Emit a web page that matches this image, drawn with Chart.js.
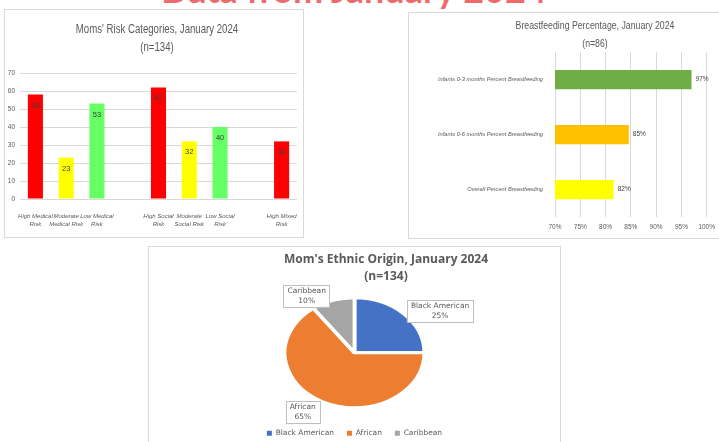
<!DOCTYPE html>
<html>
<head>
<meta charset="utf-8">
<script src="https://cdn.jsdelivr.net/npm/chart.js@4.4.1/dist/chart.umd.min.js"></script>
<style>
  html, body { margin: 0; padding: 0; background: #fff; width: 719px; height: 442px; overflow: hidden; position: relative; }
  .headline { position: absolute; left: 0; width: 708px; top: -29px; text-align: center; font: 700 36px Lato, sans-serif; color: #ef6b6b; line-height: 36px; white-space: nowrap; }
  .panel { position: absolute; border: 1px solid #d9d9d9; background: #fff; }
  .panel canvas { display: block; }
</style>
</head>
<body>
<div class="headline">Data from January 2024</div>
<div class="panel" style="left:4px;top:9px;width:298px;height:227px;"><canvas id="riskChart" width="298" height="227"></canvas></div>
<div class="panel" style="left:408px;top:12px;width:312px;height:225px;"><canvas id="feedChart" width="312" height="225"></canvas></div>
<div class="panel" style="left:148px;top:246px;width:411px;height:200px;"><canvas id="originChart" width="411" height="200"></canvas></div>
<script>
// Moms' risk categories (blank slots are the gaps between groups)
const riskLabels = [['High Medical', 'Risk'], ['Moderate', 'Medical Risk'], ['Low Medical', 'Risk'], '',
    ['High Social', 'Risk'], ['Moderate', 'Social Risk'], ['Low Social', 'Risk'], '', ['High Mixed', 'Risk']];
const riskCounts = [58, 23, 53, null, 62, 32, 40, null, 32];
const riskColors = ['#ff0000', '#ffff00', '#66ff66', null, '#ff0000', '#ffff00', '#66ff66', null, '#ff0000'];
const riskTicks = [0, 10, 20, 30, 40, 50, 60, 70];

// Breastfeeding percentage
const feedLabels = ['Infants 0-3 months Percent Breastfeeding', 'Infants 0-6 months Percent Breastfeeding', 'Overall Percent Breastfeeding'];
const feedPercent = [97, 84.6, 81.6];
const feedColors = ['#70ad47', '#ffc000', '#ffff00'];
const feedTicks = [70, 75, 80, 85, 90, 95, 100];

// Ethnic origin
const originLabels = ['Black American', 'African', 'Caribbean'];
const originPercent = [25, 65, 10];
const originColors = ['#4472c4', '#ed7d31', '#a5a5a5'];

const NARROW = "'Liberation Sans Narrow', 'Liberation Sans', sans-serif";
const GREY = '#595959';

// draws a centred multi-line title at a fixed spot of the panel (squeezed like the original)
function panelTitle(lines, x, y, lineHeight, font, squeeze) {
    return {
        id: 'panelTitle',
        afterDraw(chart) {
            const ctx = chart.ctx;
            ctx.save();
            ctx.font = font;
            ctx.fillStyle = GREY;
            ctx.textAlign = 'center';
            ctx.textBaseline = 'middle';
            ctx.translate(x, y);
            ctx.scale(squeeze, 1);
            lines.forEach((line, i) => ctx.fillText(line, 0, i * lineHeight));
            ctx.restore();
        }
    };
}

// value labels for bars
function barValues(format, horizontal) {
    return {
        id: 'barValues',
        afterDatasetsDraw(chart) {
            const ctx = chart.ctx;
            const values = chart.data.datasets[0].data;
            ctx.save();
            ctx.fillStyle = '#404040';
            ctx.textBaseline = 'middle';
            chart.getDatasetMeta(0).data.forEach((bar, i) => {
                if (values[i] == null) return;
                if (horizontal) {
                    ctx.font = `6.5px ${NARROW}`;
                    ctx.textAlign = 'left';
                    ctx.fillText(format(values[i]), bar.x + 4, bar.y);
                } else {
                    ctx.font = `7.5px ${NARROW}`;
                    ctx.textAlign = 'center';
                    ctx.fillText(format(values[i]), bar.x, bar.y + 11);
                }
            });
            ctx.restore();
        }
    };
}

new Chart(document.getElementById('riskChart'), {
    type: 'bar',
    data: {
        labels: riskLabels,
        datasets: [{ data: riskCounts, backgroundColor: riskColors, barPercentage: 0.49, categoryPercentage: 1 }]
    },
    options: {
        responsive: false,
        animation: false,
        layout: { padding: { top: 63, right: 6 } },
        plugins: { legend: { display: false }, tooltip: { enabled: false } },
        scales: {
            x: {
                grid: { display: false },
                border: { display: false },
                ticks: { autoSkip: false, maxRotation: 0, color: GREY, padding: 5, font: { family: NARROW, size: 6, style: 'italic', lineHeight: 1.4 } },
                afterFit: s => { s.height = 38; }
            },
            y: {
                min: 0, max: 70,
                afterBuildTicks: s => { s.ticks = riskTicks.map(v => ({ value: v })); },
                grid: { color: '#d9d9d9', drawTicks: false },
                border: { display: false },
                ticks: { color: GREY, padding: 5, font: { family: NARROW, size: 6.5 } },
                afterFit: s => { s.width = 15; }
            }
        }
    },
    plugins: [panelTitle(["Moms' Risk Categories, January 2024", '(n=134)'], 152, 20, 18, `12.5px ${NARROW}`, 0.77), barValues(v => v, false)]
});

new Chart(document.getElementById('feedChart'), {
    type: 'bar',
    data: {
        labels: feedLabels,
        datasets: [{ data: feedPercent, backgroundColor: feedColors, barPercentage: 0.35, categoryPercentage: 1 }]
    },
    options: {
        responsive: false,
        animation: false,
        indexAxis: 'y',
        layout: { padding: { top: 39, right: 14 } },
        plugins: { legend: { display: false }, tooltip: { enabled: false } },
        scales: {
            x: {
                min: 70, max: 100,
                afterBuildTicks: s => { s.ticks = feedTicks.map(v => ({ value: v })); },
                grid: { color: '#d9d9d9', drawTicks: false },
                border: { display: false },
                ticks: { color: GREY, padding: 6, callback: v => v + '%', font: { family: NARROW, size: 6.5 } },
                afterFit: s => { s.height = 21; }
            },
            y: {
                grid: { display: false },
                border: { display: false },
                ticks: { color: GREY, padding: 4, font: { family: NARROW, size: 5.7, style: 'italic' } },
                afterFit: s => { s.width = 146; }
            }
        }
    },
    plugins: [panelTitle(['Breastfeeding Percentage, January 2024', '(n=86)'], 186, 13, 18, `11.5px ${NARROW}`, 0.76), barValues(v => Math.round(v) + '%', true)]
});

// pie is drawn a bit wider than tall, as in the original
const widenPie = {
    id: 'widenPie',
    beforeDatasetsDraw(chart) {
        const arc = chart.getDatasetMeta(0).data[0];
        const ctx = chart.ctx;
        ctx.save();
        ctx.translate(arc.x, arc.y);
        ctx.scale(1.27, 1);
        ctx.translate(-arc.x, -arc.y);
    },
    afterDatasetsDraw(chart) {
        chart.ctx.restore();
    }
};

// boxed "name / percent" labels just outside each slice
const sliceLabels = {
    id: 'sliceLabels',
    afterDraw(chart) {
        const ctx = chart.ctx;
        const meta = chart.getDatasetMeta(0);
        ctx.save();
        ctx.font = "7.5px 'DejaVu Sans', sans-serif";
        ctx.textAlign = 'center';
        ctx.textBaseline = 'middle';
        meta.data.forEach((arc, i) => {
            const mid = (arc.startAngle + arc.endAngle) / 2;
            const dx = Math.cos(mid), dy = Math.sin(mid);
            const ex = arc.x + dx * arc.outerRadius * 1.27;
            const ey = arc.y + dy * arc.outerRadius;
            const lines = [originLabels[i], originPercent[i] + '%'];
            const w = Math.max(...lines.map(t => ctx.measureText(t).width)) + 8;
            const h = 22;
            const cx = dx > 0 ? ex + 3 + w / 2 : ex - 3 - w / 2;
            const cy = ey + dy * 8 + 3;
            ctx.fillStyle = '#fff';
            ctx.strokeStyle = '#bfbfbf';
            ctx.lineWidth = 1;
            ctx.fillRect(cx - w / 2, cy - h / 2, w, h);
            ctx.strokeRect(Math.round(cx - w / 2) + 0.5, Math.round(cy - h / 2) + 0.5, Math.round(w), h);
            ctx.fillStyle = GREY;
            ctx.fillText(lines[0], cx, cy - 5);
            ctx.fillText(lines[1], cx, cy + 5);
        });
        ctx.restore();
    }
};

new Chart(document.getElementById('originChart'), {
    type: 'pie',
    data: {
        labels: originLabels,
        datasets: [{ data: originPercent, backgroundColor: originColors, borderColor: '#fff', borderWidth: 3, radius: 55 }]
    },
    options: {
        responsive: false,
        animation: false,
        layout: { padding: { top: 42, bottom: 0 } },
        plugins: {
            tooltip: { enabled: false },
            legend: {
                position: 'bottom',
                labels: {
                    boxWidth: 5, boxHeight: 5, padding: 13, color: GREY,
                    font: { family: "'DejaVu Sans', sans-serif", size: 7.5 },
                    generateLabels: chart => Chart.overrides.pie.plugins.legend.labels.generateLabels(chart).map(l => ({ ...l, lineWidth: 0 }))
                }
            }
        }
    },
    plugins: [widenPie, sliceLabels, panelTitle(["Mom's Ethnic Origin, January 2024", '(n=134)'], 237, 13, 17, "700 12px 'Open Sans', sans-serif", 1)]
});
</script>
</body>
</html>
